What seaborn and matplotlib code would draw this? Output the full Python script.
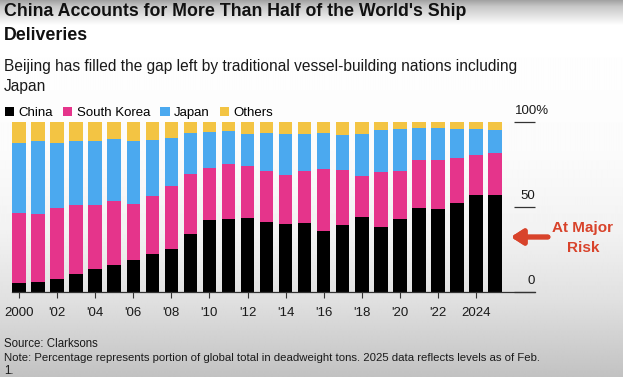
import numpy as np
import pandas as pd
import seaborn as sns
import matplotlib.pyplot as plt
from matplotlib.patches import Patch

W, H = 623, 377

years = list(range(2000, 2026))
china = [5.5, 6.1, 7.7, 10.8, 13.7, 16.1, 18.8, 22.2, 25.5, 33.9, 42.2, 42.8, 43.7,
         41.0, 40.2, 40.8, 35.9, 39.6, 44.1, 38.2, 42.9, 49.2, 48.8, 52.6, 56.9, 56.9]
south_korea = [41.0, 39.6, 41.9, 40.2, 37.3, 37.2, 33.0, 34.5, 36.7, 35.7, 30.7, 32.3, 30.6,
               30.4, 28.4, 30.4, 36.3, 32.0, 24.1, 32.4, 28.3, 28.3, 29.1, 26.0, 23.5, 24.9]
japan = [41.4, 43.1, 38.3, 37.8, 37.8, 36.7, 37.0, 32.9, 28.6, 23.9, 21.2, 19.6, 18.9,
         22.1, 24.6, 22.0, 21.6, 20.8, 24.6, 24.7, 24.9, 19.2, 18.8, 17.5, 15.7, 13.3]
others = [12.1, 11.2, 12.1, 11.2, 11.2, 10.0, 11.2, 10.4, 9.2, 6.5, 5.9, 5.3, 6.8,
          6.5, 6.8, 6.8, 6.2, 7.6, 7.2, 4.7, 3.9, 3.3, 3.3, 3.9, 3.9, 4.9]

series = ["China", "South Korea", "Japan", "Others"]
colors = ["#000000", "#e5348b", "#4ba9ef", "#f3c443"]
tick_years = list(range(2000, 2025, 2))
tick_labels = ["2000"] + ["'%02d" % (y % 100) for y in tick_years[1:-1]] + ["2024"]
y_ticks = [0, 50, 100]
y_labels = ["0", "50", "100%"]

df = pd.DataFrame({"year": [str(y) for y in years], "China": china,
                   "South Korea": south_korea, "Japan": japan, "Others": others})
cum = df[series].cumsum(axis=1)

plt.rcParams["font.family"] = ["Liberation Sans", "DejaVu Sans"]
fig = plt.figure(figsize=(W / 100, H / 100), dpi=100)

# screenshot-like grey gradient behind everything
rows = np.arange(H)
shade = np.interp(rows, [0, 6, 25, 150, 230, 300, 377], [0.64, 0.78, 1.0, 0.985, 0.95, 0.88, 0.76])
bg = fig.add_axes([0, 0, 1, 1], zorder=-10)
bg.imshow(np.tile(shade[:, None], (1, 8)), cmap="gray", vmin=0, vmax=1,
          aspect="auto", extent=[0, 1, 0, 1], interpolation="bilinear")
bg.axis("off")


def fx(px):
    return px / W


def fy(py):
    return 1 - py / H


ax_left, ax_right = 12, 535
ax = fig.add_axes([fx(ax_left), fy(292), fx(ax_right) - fx(ax_left), fy(122) - fy(292)])
ax.patch.set_alpha(0)

# stacked bars drawn as overlapping cumulative totals, top layer first
for name, col in zip(series[::-1], colors[::-1]):
    sns.barplot(data=cum, x=df["year"], y=cum[name], color=col, saturation=1,
                width=0.71, ax=ax, order=df["year"])

ax.set_xlim(-0.37, 27.1)
ax.set_ylim(0, 100)
ax.set_xlabel("")
ax.set_ylabel("")
for s in ["left", "right", "top"]:
    ax.spines[s].set_visible(False)
ax.spines["bottom"].set_color("#333333")
ax.spines["bottom"].set_linewidth(0.9)

ax.set_xticks([y - 2000 for y in tick_years])
ax.set_xticklabels(tick_labels, fontsize=9.5, color="#1a1a1a")
ax.tick_params(axis="x", length=4, width=0.8, color="#333333", pad=7)

# short tick lines on the right with labels sitting above them
ax.yaxis.tick_right()
ax.set_yticks(y_ticks)
ax.set_yticklabels([])
ax.tick_params(axis="y", direction="in", length=15, width=0.9, color="#333333")
pct_x = (515 - ax_left) / (ax_right - ax_left)
for v, lab in zip(y_ticks, y_labels):
    if lab.endswith("%"):
        ax.text(pct_x, v + 6.5, lab, transform=ax.get_yaxis_transform(), ha="left",
                va="center", fontsize=9.5, color="#1a1a1a")
    else:
        ax.text(1.0, v + 6.5, lab, transform=ax.get_yaxis_transform(), ha="right",
                va="center", fontsize=9.5, color="#1a1a1a")

# titles
fig.text(fx(4), fy(11), "China Accounts for More Than Half of the World's Ship",
         fontsize=12.8, fontweight="bold", va="center", color="#111111")
fig.text(fx(4), fy(36), "Deliveries", fontsize=12.8, fontweight="bold",
         va="center", color="#111111")
fig.text(fx(4), fy(66), "Beijing has filled the gap left by traditional vessel-building nations including",
         fontsize=11.2, va="center", color="#1a1a1a")
fig.text(fx(4), fy(86), "Japan", fontsize=11.2, va="center", color="#1a1a1a")

handles = [Patch(facecolor=c, edgecolor="none") for c in colors]
fig.legend(handles, series, loc="center left", bbox_to_anchor=(fx(1), fy(113)),
           ncol=4, frameon=False, fontsize=9.5, handlelength=0.7, handleheight=0.7,
           handletextpad=0.35, columnspacing=0.75, borderaxespad=0, borderpad=0.3)

# annotation
red = "#d8432b"
fig.text(fx(583), fy(228), "At Major", fontsize=11, fontweight="bold", color=red,
         ha="center", va="center")
fig.text(fx(583), fy(248), "Risk", fontsize=11, fontweight="bold", color=red,
         ha="center", va="center")
fig.add_artist(plt.annotate("", xy=(fx(511), fy(237)), xytext=(fx(548), fy(237)),
                            xycoords="figure fraction", textcoords="figure fraction",
                            arrowprops=dict(arrowstyle="-|>,head_length=0.7,head_width=0.45",
                                            lw=3.5, color=red, shrinkA=0, shrinkB=0)))

# footer
fig.text(fx(4), fy(344), "Source: Clarksons", fontsize=8.3, va="center", color="#1a1a1a")
fig.text(fx(4), fy(358), "Note: Percentage represents portion of global total in deadweight tons. "
         "2025 data reflects levels as of Feb.", fontsize=8.2, va="center", color="#1a1a1a")
fig.text(fx(4), fy(371), "1.", fontsize=8.3, va="center", color="#1a1a1a")

fig.savefig("out.png", dpi=100)
